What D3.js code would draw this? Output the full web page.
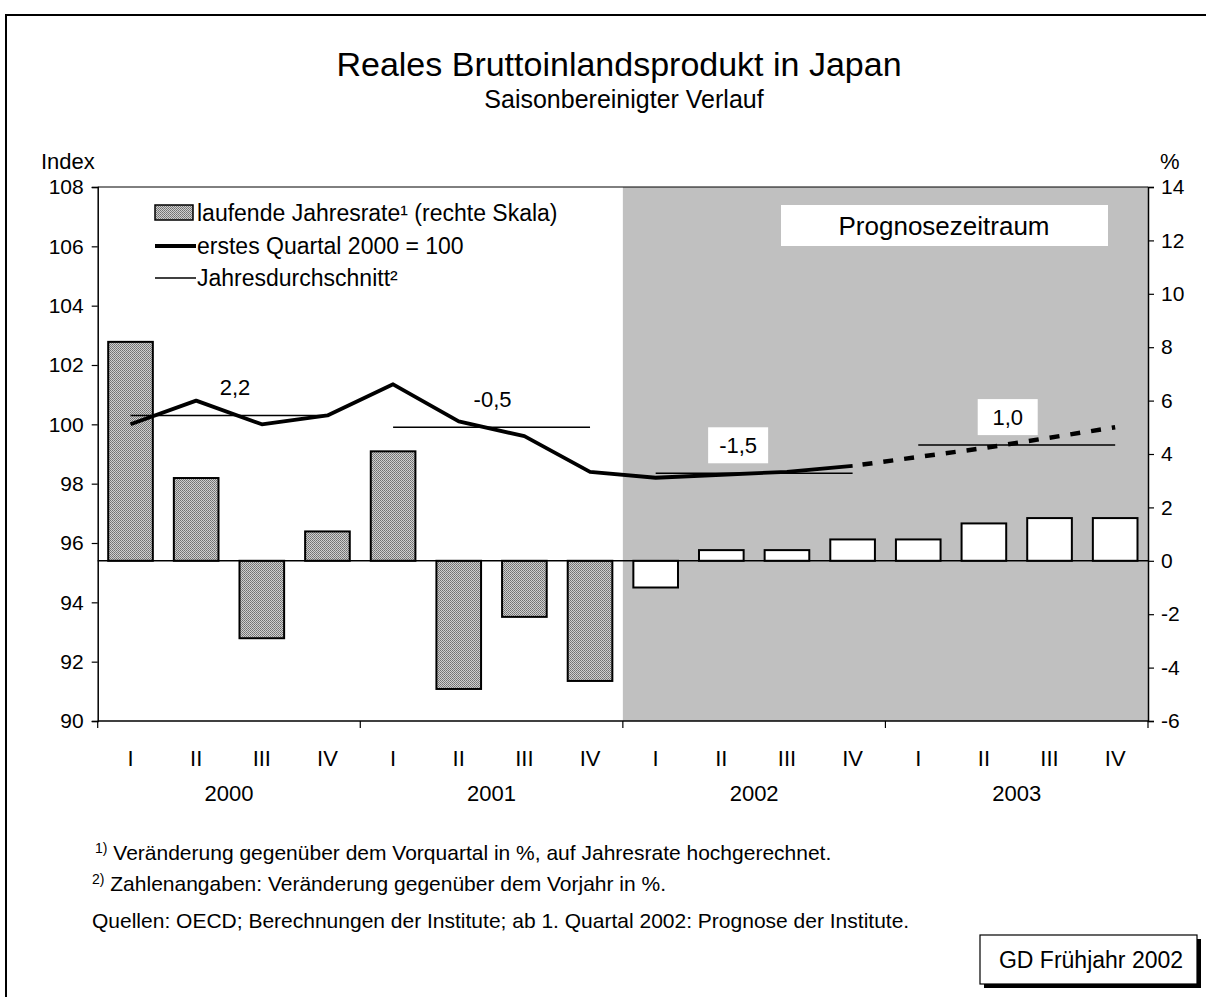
<!DOCTYPE html>
<html>
<head>
<meta charset="utf-8">
<script src="https://cdn.jsdelivr.net/npm/d3@7"></script>
<style>
  body { margin: 0; background: #fff; }
  svg { display: block; font-family: "Liberation Sans", Arial, sans-serif; }
</style>
</head>
<body>
<svg id="chart" width="1206" height="997"></svg>
<script>
// data
const quarters = ["I", "II", "III", "IV", "I", "II", "III", "IV", "I", "II", "III", "IV", "I", "II", "III", "IV"];
const years = ["2000", "2001", "2002", "2003"];
const annualRate = [8.2, 3.1, -2.9, 1.1, 4.1, -4.8, -2.1, -4.5, -1.0, 0.4, 0.4, 0.8, 0.8, 1.4, 1.6, 1.6];
const indexActual = [100.0, 100.8, 100.0, 100.3, 101.35, 100.1, 99.6, 98.4, 98.2, 98.3, 98.4, 98.6];
const indexForecast = [98.6, 98.9, 99.2, 99.55, 99.9]; // 2002 IV .. 2003 IV
const yearAverage = [100.3, 99.9, 98.35, 99.3];
const yearChange = ["2,2", "-0,5", "-1,5", "1,0"];
const leftTicks = [90, 92, 94, 96, 98, 100, 102, 104, 106, 108];
const rightTicks = [-6, -4, -2, 0, 2, 4, 6, 8, 10, 12, 14];
const forecastStart = 8;

const svg = d3.select("#chart");
const plotLeft = 97.7, plotRight = 1148, plotTop = 187, plotBottom = 721;

const x = d3.scaleBand().domain(d3.range(quarters.length)).range([plotLeft, plotRight]).paddingInner(0.32).paddingOuter(0.16);
const step = (plotRight - plotLeft) / quarters.length;
const cx = (i) => x(i) + x.bandwidth() / 2;
const yL = d3.scaleLinear().domain([90, 108]).range([plotBottom, plotTop]);
const yR = d3.scaleLinear().domain([-6, 14]).range([plotBottom, plotTop]);

// fine stipple for the observed bars
const defs = svg.append("defs");
const pat = defs.append("pattern").attr("id", "stipple").attr("width", 2).attr("height", 2).attr("patternUnits", "userSpaceOnUse");
pat.append("rect").attr("width", 2).attr("height", 2).attr("fill", "#cfcfcf");
pat.append("rect").attr("width", 1).attr("height", 1).attr("fill", "#707070");
pat.append("rect").attr("x", 1).attr("y", 1).attr("width", 1).attr("height", 1).attr("fill", "#808080");

// outer frame
svg.append("rect").attr("x", 6).attr("y", 15).attr("width", 1220).attr("height", 1000)
  .attr("fill", "none").attr("stroke", "#000").attr("stroke-width", 2);

// titles
svg.append("text").attr("x", 619).attr("y", 76).attr("text-anchor", "middle").attr("font-size", 34).text("Reales Bruttoinlandsprodukt in Japan");
svg.append("text").attr("x", 624).attr("y", 108).attr("text-anchor", "middle").attr("font-size", 25).text("Saisonbereinigter Verlauf");
svg.append("text").attr("x", 41).attr("y", 169).attr("font-size", 22).text("Index");
svg.append("text").attr("x", 1160).attr("y", 169).attr("font-size", 22).text("%");

// forecast shading
svg.append("rect").attr("x", plotLeft + step * forecastStart).attr("y", plotTop)
  .attr("width", plotRight - (plotLeft + step * forecastStart)).attr("height", plotBottom - plotTop).attr("fill", "#c0c0c0");

// top border of plot
svg.append("line").attr("x1", plotLeft).attr("x2", plotRight).attr("y1", plotTop).attr("y2", plotTop).attr("stroke", "#000").attr("stroke-width", 1);

// axes
const axL = svg.append("g").attr("transform", `translate(${plotLeft},0)`)
  .call(d3.axisLeft(yL).tickValues(leftTicks).tickSize(6).tickPadding(8).tickFormat((d) => String(d)));
const axR = svg.append("g").attr("transform", `translate(${plotRight},0)`)
  .call(d3.axisRight(yR).tickValues(rightTicks).tickSize(6).tickPadding(7).tickFormat((d) => String(d)));
[axL, axR].forEach((g) => {
  g.select(".domain").attr("stroke-width", 1.5);
  g.selectAll("text").attr("font-size", 21).attr("font-family", "Liberation Sans, Arial, sans-serif").attr("fill", "#000");
  g.selectAll(".tick line").attr("stroke-width", 1.2);
});

// x axis with year separators
const yearScale = d3.scaleLinear().domain([0, years.length]).range([plotLeft, plotRight]);
const xa = svg.append("g");
xa.append("line").attr("x1", plotLeft).attr("x2", plotRight).attr("y1", plotBottom).attr("y2", plotBottom).attr("stroke", "#000").attr("stroke-width", 1.5);
xa.selectAll(".ytick").data(d3.range(years.length + 1)).join("line")
  .attr("x1", (d) => yearScale(d)).attr("x2", (d) => yearScale(d))
  .attr("y1", plotBottom).attr("y2", plotBottom + 7).attr("stroke", "#000").attr("stroke-width", 1.2);
xa.selectAll(".qlab").data(quarters).join("text")
  .attr("x", (d, i) => cx(i)).attr("y", 766).attr("text-anchor", "middle").attr("font-size", 22).text((d) => d);
xa.selectAll(".ylab").data(years).join("text")
  .attr("x", (d, i) => yearScale(i + 0.5)).attr("y", 801).attr("text-anchor", "middle").attr("font-size", 22).text((d) => d);

// bars on the right scale
svg.append("g").selectAll("rect").data(annualRate).join("rect")
  .attr("x", (d, i) => x(i))
  .attr("width", x.bandwidth())
  .attr("y", (d) => yR(Math.max(0, d)))
  .attr("height", (d) => Math.abs(yR(d) - yR(0)))
  .attr("fill", (d, i) => (i < forecastStart ? "url(#stipple)" : "#fff"))
  .attr("stroke", "#000").attr("stroke-width", 2);

// zero line
svg.append("line").attr("x1", plotLeft).attr("x2", plotRight).attr("y1", yR(0)).attr("y2", yR(0)).attr("stroke", "#000").attr("stroke-width", 1.5);

// annual averages
svg.append("g").selectAll("line").data(yearAverage).join("line")
  .attr("x1", (d, i) => cx(i * 4)).attr("x2", (d, i) => cx(i * 4 + 3))
  .attr("y1", (d) => yL(d)).attr("y2", (d) => yL(d))
  .attr("stroke", "#000").attr("stroke-width", 1.5);

// index line
const line = d3.line().x((d) => d[0]).y((d) => yL(d[1]));
svg.append("path").attr("d", line(indexActual.map((v, i) => [cx(i), v])))
  .attr("fill", "none").attr("stroke", "#000").attr("stroke-width", 3.8).attr("stroke-linejoin", "round");
svg.append("path").attr("d", line(indexForecast.map((v, i) => [cx(i + indexActual.length - 1), v])))
  .attr("fill", "none").attr("stroke", "#000").attr("stroke-width", 4.5).attr("stroke-dasharray", "10,11").attr("stroke-dashoffset", -10);

// annual change labels
const labelDx = [6, 1, -16, -9];
yearChange.forEach((t, i) => {
  const lx = yearScale(i + 0.5) + labelDx[i];
  const ly = yL(yearAverage[i]) - 28;
  if (i * 4 >= forecastStart) {
    svg.append("rect").attr("x", lx - 30).attr("y", ly - 18).attr("width", 60).attr("height", 36).attr("fill", "#fff");
  }
  svg.append("text").attr("x", lx).attr("y", ly + 8).attr("text-anchor", "middle").attr("font-size", 22).text(t);
});

// Prognosezeitraum label
svg.append("rect").attr("x", 781).attr("y", 205).attr("width", 327).attr("height", 41).attr("fill", "#fff");
svg.append("text").attr("x", 944).attr("y", 235).attr("text-anchor", "middle").attr("font-size", 26).text("Prognosezeitraum");

// legend
const lg = svg.append("g");
lg.append("rect").attr("x", 155).attr("y", 205).attr("width", 38).attr("height", 15).attr("fill", "url(#stipple)").attr("stroke", "#000").attr("stroke-width", 1.5);
lg.append("line").attr("x1", 155).attr("x2", 196).attr("y1", 246).attr("y2", 246).attr("stroke", "#000").attr("stroke-width", 4);
lg.append("line").attr("x1", 155).attr("x2", 196).attr("y1", 278).attr("y2", 278).attr("stroke", "#000").attr("stroke-width", 1.5);
const legendLabels = ["laufende Jahresrate¹ (rechte Skala)", "erstes Quartal 2000 = 100", "Jahresdurchschnitt²"];
lg.selectAll("text").data(legendLabels).join("text")
  .attr("x", 197).attr("y", (d, i) => 221 + i * 32.5).attr("font-size", 23).text((d) => d);

// footnotes
const fn = svg.append("g").attr("font-size", 21);
const f1 = fn.append("text").attr("x", 95).attr("y", 860);
f1.append("tspan").attr("font-size", 14).attr("dy", -7).text("1)");
f1.append("tspan").attr("dy", 7).text(" Veränderung gegenüber dem Vorquartal in %, auf Jahresrate hochgerechnet.");
const f2 = fn.append("text").attr("x", 92).attr("y", 891);
f2.append("tspan").attr("font-size", 14).attr("dy", -7).text("2)");
f2.append("tspan").attr("dy", 7).text(" Zahlenangaben: Veränderung gegenüber dem Vorjahr in %.");
fn.append("text").attr("x", 92).attr("y", 928).text("Quellen: OECD; Berechnungen der Institute; ab 1. Quartal 2002: Prognose der Institute.");

// GD box
svg.append("rect").attr("x", 984).attr("y", 939).attr("width", 217).attr("height", 49).attr("fill", "#000");
svg.append("rect").attr("x", 980).attr("y", 935).attr("width", 217).attr("height", 49).attr("fill", "#fff").attr("stroke", "#000").attr("stroke-width", 1.2);
svg.append("text").attr("x", 1091).attr("y", 968).attr("text-anchor", "middle").attr("font-size", 23).text("GD Frühjahr 2002");
</script>
</body>
</html>
